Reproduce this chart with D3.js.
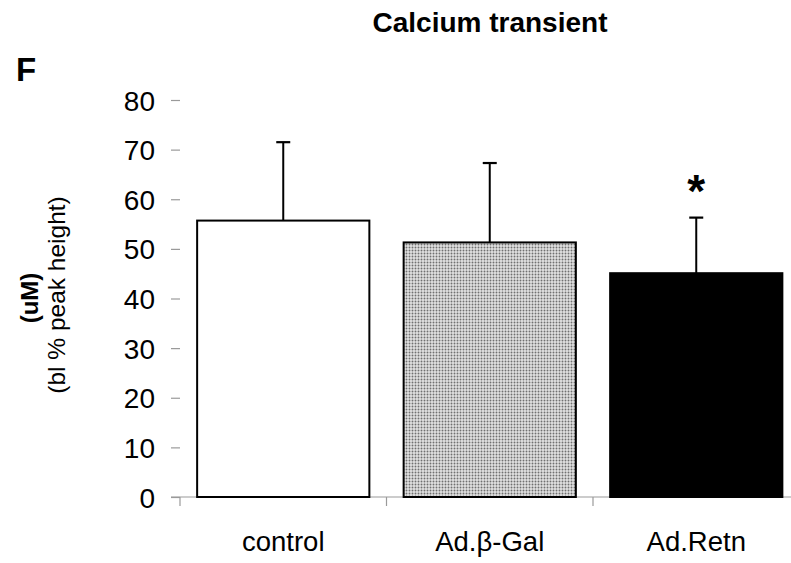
<!DOCTYPE html>
<html>
<head>
<meta charset="utf-8">
<script src="https://cdn.jsdelivr.net/npm/d3@7"></script>
<style>
	body { margin: 0; background: #fff; }
	text { font-family: "Liberation Sans", Arial, sans-serif; fill: #000; }
</style>
</head>
<body>
<div id="chart"></div>
<script>
//Data
var groups = ["control", "Ad.\u03b2-Gal", "Ad.Retn"];
var means = [55.7, 51.3, 45.1];
var errors = [15.8, 16.0, 11.2];
var yTicks = [0, 10, 20, 30, 40, 50, 60, 70, 80];
var marks = ["", "", "*"];

function calciumChart() {
	var w = 791;
	var h = 563;

	var svg = d3.select("#chart")
		.append("svg")
		.attr("width", w)
		.attr("height", h);

	//Dotted fill for the middle bar
	var pat = svg.append("defs").append("pattern")
		.attr("id", "dots")
		.attr("patternUnits", "userSpaceOnUse")
		.attr("width", 3)
		.attr("height", 3);
	pat.append("rect").attr("width", 3).attr("height", 3).attr("fill", "#e2e2e2");
	pat.append("circle").attr("cx", 1.5).attr("cy", 1.5).attr("r", 0.95).attr("fill", "#707070");

	var x = d3.scaleBand()
		.domain(groups)
		.range([180, 799.5])
		.paddingInner(0.166)
		.paddingOuter(0.083);

	var y = d3.scaleLinear()
		.domain([0, 80])
		.range([497, 100]);

	var fills = ["#fff", "url(#dots)", "#000"];

	//Y axis: ticks only, no spine
	var yAxis = d3.axisLeft(y)
		.tickValues(yTicks)
		.tickSize(9)
		.tickPadding(16);

	var gy = svg.append("g")
		.attr("transform", "translate(180,0)")
		.call(yAxis);
	gy.select(".domain").remove();
	gy.selectAll(".tick line").attr("stroke", "#9a9a9a").attr("stroke-width", 1.2);
	gy.selectAll(".tick text")
		.style("font-size", "28px")
		.style("font-family", "'Liberation Sans', Arial, sans-serif")
		.attr("dy", "0.36em");

	//X axis baseline with category boundary ticks
	svg.append("line")
		.attr("x1", 171).attr("x2", w)
		.attr("y1", y(0)).attr("y2", y(0))
		.attr("stroke", "#9a9a9a")
		.attr("stroke-width", 1.2);

	var bounds = groups.map(function (d) { return x(d) - x.step() * x.paddingOuter(); });
	svg.selectAll("line.xtick")
		.data(bounds)
		.enter().append("line")
		.attr("class", "xtick")
		.attr("x1", function (d) { return d; })
		.attr("x2", function (d) { return d; })
		.attr("y1", y(0))
		.attr("y2", y(0) + 9)
		.attr("stroke", "#9a9a9a")
		.attr("stroke-width", 1.2);

	//Error bars (upper only), drawn first so the bar outline sits on top
	var eb = svg.selectAll("g.err")
		.data(groups)
		.enter().append("g")
		.attr("class", "err");
	eb.append("line")
		.attr("x1", function (d) { return x(d) + x.bandwidth() / 2; })
		.attr("x2", function (d) { return x(d) + x.bandwidth() / 2; })
		.attr("y1", function (d, i) { return y(means[i]); })
		.attr("y2", function (d, i) { return y(means[i] + errors[i]); })
		.attr("stroke", "#000")
		.attr("stroke-width", 2);
	eb.append("line")
		.attr("x1", function (d) { return x(d) + x.bandwidth() / 2 - 7; })
		.attr("x2", function (d) { return x(d) + x.bandwidth() / 2 + 7; })
		.attr("y1", function (d, i) { return y(means[i] + errors[i]); })
		.attr("y2", function (d, i) { return y(means[i] + errors[i]); })
		.attr("stroke", "#000")
		.attr("stroke-width", 2.2);

	//Bars
	svg.selectAll("rect.bar")
		.data(groups)
		.enter().append("rect")
		.attr("class", "bar")
		.attr("x", function (d) { return x(d); })
		.attr("y", function (d, i) { return y(means[i]); })
		.attr("width", x.bandwidth())
		.attr("height", function (d, i) { return y(0) - y(means[i]); })
		.attr("fill", function (d, i) { return fills[i]; })
		.attr("stroke", "#000")
		.attr("stroke-width", 2);

	//Significance mark
	svg.selectAll("text.mark")
		.data(groups)
		.enter().append("text")
		.attr("class", "mark")
		.attr("x", function (d) { return x(d) + x.bandwidth() / 2; })
		.attr("y", function (d, i) { return y(means[i] + errors[i]) - 11; })
		.attr("text-anchor", "middle")
		.style("font-size", "46px")
		.style("font-weight", "bold")
		.text(function (d, i) { return marks[i]; });

	//Category labels
	svg.selectAll("text.cat")
		.data(groups)
		.enter().append("text")
		.attr("class", "cat")
		.attr("x", function (d) { return x(d) + x.bandwidth() / 2; })
		.attr("y", 551)
		.attr("text-anchor", "middle")
		.style("font-size", "27.5px")
		.text(function (d) { return d; });

	//Title and panel letter
	svg.append("text")
		.attr("x", 490).attr("y", 32)
		.attr("text-anchor", "middle")
		.style("font-size", "28px")
		.style("font-weight", "bold")
		.text("Calcium transient");

	svg.append("text")
		.attr("x", 16).attr("y", 81)
		.style("font-size", "33px")
		.style("font-weight", "bold")
		.text("F");

	//Y axis title, two lines
	svg.append("text")
		.attr("transform", "translate(38,298) rotate(-90)")
		.attr("text-anchor", "middle")
		.style("font-size", "24px")
		.style("font-weight", "bold")
		.text("(uM)");

	svg.append("text")
		.attr("transform", "translate(65,295) rotate(-90)")
		.attr("text-anchor", "middle")
		.style("font-size", "24.5px")
		.text("(bl % peak height)");
}

calciumChart();
</script>
</body>
</html>
